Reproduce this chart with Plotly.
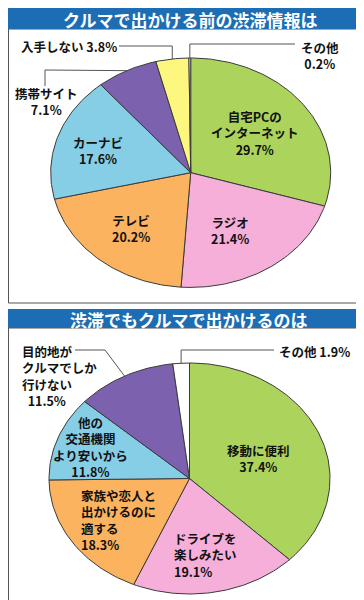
import numpy as np
import plotly.graph_objects as go

W, H = 364, 600

# ---------------- data ----------------
title1 = "クルマで出かける前の渋滞情報は"
cats1 = ["自宅PCのインターネット", "ラジオ", "テレビ", "カーナビ", "携帯サイト", "入手しない", "その他"]
vals1 = [29.7, 21.4, 20.2, 17.6, 7.1, 3.8, 0.2]
labels1 = ["自宅PCの<br>インターネット<br>29.7%", "ラジオ<br>21.4%", "テレビ<br>20.2%",
           "カーナビ<br>17.6%", "携帯サイト<br>7.1%", "入手しない 3.8%", "その他<br>0.2%"]

title2 = "渋滞でもクルマで出かけるのは"
cats2 = ["移動に便利", "ドライブを楽しみたい", "家族や恋人と出かけるのに適する",
         "他の交通機関より安いから", "目的地がクルマでしか行けない", "その他"]
vals2 = [37.4, 19.1, 18.3, 11.8, 11.5, 1.9]
labels2 = ["移動に便利<br>37.4%", "ドライブを<br>楽しみたい<br>19.1%",
           "家族や恋人と<br>出かけるのに<br>適する<br>18.3%",
           "他の<br>交通機関<br>より安いから<br>11.8%",
           "目的地が<br>クルマでしか<br>行けない<br>\u00a0\u00a011.5%", "その他 1.9%"]

colors1 = ["#acd45c", "#f6afd9", "#fbb360", "#86cde6", "#7c62ae", "#fdf67f", "#ffffff"]
colors2 = ["#acd45c", "#f6afd9", "#fbb360", "#86cde6", "#7c62ae", "#ffffff"]

HEADER = "#1c6db4"
EDGE = "#3a3a3a"
FONT = "Noto Sans CJK JP"

# pie geometry in pixels (cx, cy, rx, ry)
geo1 = (182.7, 164.7, 140.0, 114.7)
geo2 = (181.5, 470.5, 140.5, 115.5)

fig = go.Figure()


def px(x):
    return x / W


def py(y):
    return 1 - y / H


def add_pie(vals, colors, names, xa, ya, geo):
    cx, cy, rx, ry = geo
    pad = 3.0
    fig.update_layout(**{
        xa: dict(domain=[px(cx - rx - pad), px(cx + rx + pad)],
                 range=[-(rx + pad) / rx, (rx + pad) / rx],
                 visible=False, fixedrange=True),
        ya: dict(domain=[py(cy + ry + pad), py(cy - ry - pad)],
                 range=[-(ry + pad) / ry, (ry + pad) / ry],
                 visible=False, fixedrange=True),
    })
    xref = "x" + xa[5:]
    yref = "y" + ya[5:]
    total = sum(vals)
    start = 0.0
    for v, c, n in zip(vals, colors, names):
        a0 = start / total * 2 * np.pi
        a1 = (start + v) / total * 2 * np.pi
        t = np.linspace(a0, a1, max(3, int(v * 3)))
        xs = np.concatenate([[0], np.sin(t), [0]])
        ys = np.concatenate([[0], np.cos(t), [0]])
        fig.add_trace(go.Scatter(x=xs, y=ys, mode="lines", fill="toself",
                                 fillcolor=c, line=dict(color=EDGE, width=1),
                                 name=n, hoverinfo="name", showlegend=False,
                                 xaxis=xref, yaxis=yref))
        start += v


def anchor(vals, idx, geo):
    cx, cy, rx, ry = geo
    total = sum(vals)
    mid = (sum(vals[:idx]) + vals[idx] / 2) / total * 2 * np.pi
    return cx + rx * np.sin(mid), cy - ry * np.cos(mid)


add_pie(vals1, colors1, cats1, "xaxis", "yaxis", geo1)
add_pie(vals2, colors2, cats2, "xaxis2", "yaxis2", geo2)

shapes = []
# panel frames
for (y0, y1) in [(21, 295), (320, 597)]:
    shapes.append(dict(type="rect", xref="paper", yref="paper",
                       x0=px(0.5), x1=px(363.5), y0=py(y1), y1=py(y0),
                       line=dict(color="#555555", width=1), layer="below"))
# headers
for (y0, y1) in [(0, 21), (301, 320)]:
    shapes.append(dict(type="rect", xref="paper", yref="paper",
                       x0=0, x1=1, y0=py(y1), y1=py(y0),
                       line=dict(width=0), fillcolor=HEADER, layer="below"))


def leader(points):
    path = "M " + " L ".join(f"{px(x)},{py(y)}" for x, y in points)
    shapes.append(dict(type="path", xref="paper", yref="paper", path=path,
                       line=dict(color="#555555", width=1), layer="above"))


# leader lines (anchored to slice midpoints on the rim)
ax, ay = anchor(vals1, 6, geo1)
leader([(287, 36), (ax, 36), (ax, ay)])
ax, ay = anchor(vals1, 5, geo1)
leader([(111, 38), (ax, 38), (ax, ay)])
ax, ay = anchor(vals1, 4, geo1)
leader([(37, 78), (37, 62), (ax, ay)])
ax, ay = anchor(vals2, 5, geo2)
leader([(266, 342), (ax, 342), (ax, ay)])
ax, ay = anchor(vals2, 4, geo2)
leader([(67, 342), (97, 342), (ax, ay)])

annotations = []


def label(text, x, y, xanchor="center", align="center", size=12.5):
    annotations.append(dict(text=text, x=px(x), y=py(y), xref="paper", yref="paper",
                            xanchor=xanchor, yanchor="middle", align=align,
                            showarrow=False,
                            font=dict(family=FONT, size=size, color="#111111", weight="bold")))


# titles
annotations.append(dict(text=title1, x=0.5, y=py(11.5), xref="paper", yref="paper",
                        showarrow=False, xanchor="center", yanchor="middle",
                        font=dict(family=FONT, size=17, color="white", weight="bold")))
annotations.append(dict(text=title2, x=px(181), y=py(311), xref="paper", yref="paper",
                        showarrow=False, xanchor="center", yanchor="middle",
                        font=dict(family=FONT, size=17, color="white", weight="bold")))

# top pie labels
label(labels1[0], 247, 125)
label(labels1[1], 222, 222)
label(labels1[2], 123, 220)
label(labels1[3], 90, 142)
label(labels1[4], 38, 93.5)
label(labels1[5], 11, 39, xanchor="left", align="left")
label(labels1[6], 312, 47)

# bottom pie labels
label(labels2[0], 250, 450)
label(labels2[1], 164, 547, xanchor="left", align="left")
label(labels2[2], 71, 512, xanchor="left", align="left")
label(labels2[3], 82, 438.5)
label(labels2[4], 12, 367.5, xanchor="left", align="left")
label(labels2[5], 269, 343, xanchor="left", align="left")

fig.update_layout(width=W, height=H, autosize=False,
                  margin=dict(l=0, r=0, t=0, b=0),
                  paper_bgcolor="white", plot_bgcolor="rgba(0,0,0,0)",
                  shapes=shapes, annotations=annotations, showlegend=False)

fig.write_html("out.html")
